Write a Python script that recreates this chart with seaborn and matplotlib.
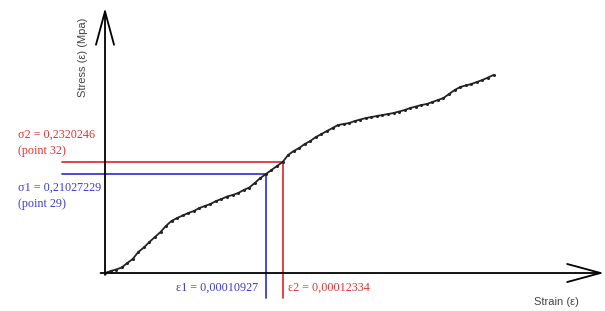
import seaborn as sns
import matplotlib.pyplot as plt

# strain in units of 1e-6, one value per recorded point (0..70)
strain = [0, 3.8, 7.5, 11.3, 15.1, 18.8, 22.6, 26.4, 30.1, 33.9,
          37.7, 41.4, 45.2, 49.0, 52.8, 56.5, 60.3, 64.1, 67.8, 71.6,
          75.4, 79.1, 82.9, 86.7, 90.4, 94.2, 98.0, 101.7, 105.5, 109.3,
          113.0, 116.8, 120.6, 124.3, 128.1, 131.9, 135.6, 139.4, 143.2, 147.0,
          150.7, 154.5, 158.3, 162.0, 165.8, 169.6, 173.3, 177.1, 180.9, 184.6,
          188.4, 192.2, 195.9, 199.7, 203.5, 207.2, 211.0, 214.8, 218.5, 222.3,
          226.1, 229.8, 233.6, 237.4, 241.2, 244.9, 248.7, 252.5, 256.2, 260.0,
          263.8]
stress = [0.0, 0.0042, 0.0074, 0.0117, 0.0212, 0.0297, 0.0446, 0.0542, 0.0658, 0.0765,
          0.0871, 0.1001, 0.1107, 0.1169, 0.1222, 0.1274, 0.1317, 0.1381, 0.1423, 0.1466,
          0.1529, 0.1572, 0.1625, 0.1657, 0.1699, 0.1763, 0.1816, 0.1912, 0.2018, 0.2103,
          0.2188, 0.2273, 0.2358, 0.2506, 0.2591, 0.2655, 0.2740, 0.2804, 0.2889, 0.2952,
          0.3016, 0.3080, 0.3144, 0.3165, 0.3186, 0.3228, 0.3260, 0.3292, 0.3313, 0.3335,
          0.3356, 0.3377, 0.3398, 0.3430, 0.3462, 0.3505, 0.3536, 0.3568, 0.3590, 0.3632,
          0.3675, 0.3717, 0.3802, 0.3887, 0.3951, 0.3983, 0.4014, 0.4057, 0.4099, 0.4152,
          0.4206]

p1, p2 = 29, 32
sig_labels = ["σ1 = 0,21027229", "σ2 = 0,2320246"]
pt_labels = ["(point 29)", "(point 32)"]
eps_labels = ["ε1 = 0,00010927", "ε2 = 0,00012334"]
blue = "#3b3bd0"
red = "#e03434"

sns.set_style("white")
fig = plt.figure(figsize=(6.05, 3.11), dpi=100)
ax = fig.add_axes([0, 0, 1, 1])
ax.set_xlim(-71.3, 339.5)
ax.set_ylim(-0.0807, 0.5799)
ax.axis("off")

# axes arrows
arr = dict(arrowstyle="->,head_length=2.4,head_width=0.65", color="black", lw=1.3,
           mutation_scale=10, shrinkA=0, shrinkB=0)
ax.annotate("", xy=(0, 0.563), xytext=(0, -0.004), arrowprops=arr)
ax.annotate("", xy=(338.8, 0), xytext=(-3, 0), arrowprops=arr)

# guide lines
for p, c in [(p1, blue), (p2, red)]:
    ax.plot([-29.2, strain[p]], [stress[p], stress[p]], color=c, lw=1.3)
    ax.plot([strain[p], strain[p]], [stress[p], -0.053], color=c, lw=1.3)

sns.lineplot(x=strain, y=stress, color="#222222", lw=1.3, marker="o",
             markersize=2.2, markeredgewidth=0, ax=ax)

serif = "Liberation Serif"
fs = 8.7
ax.text(-59, 0.294, sig_labels[1], color=red, fontsize=fs, family=serif, va="center")
ax.text(-59, 0.260, pt_labels[1], color=red, fontsize=fs, family=serif, va="center")
ax.text(-59, 0.1805, sig_labels[0], color=blue, fontsize=fs, family=serif, va="center")
ax.text(-59, 0.1465, pt_labels[0], color=blue, fontsize=fs, family=serif, va="center")
ax.text(strain[p1] - 5, -0.032, eps_labels[0], color=blue, fontsize=fs, family=serif,
        va="center", ha="right")
ax.text(strain[p2] + 3.5, -0.032, eps_labels[1], color=red, fontsize=fs, family=serif,
        va="center", ha="left")

sans = "Liberation Sans"
ax.text(291.5, -0.062, "Strain (ε)", color="#444444", fontsize=8, family=sans, va="center")
ax.text(-14.9, 0.4585, "Stress (ε) (Mpa)", color="#444444", fontsize=8, family=sans,
        rotation=90, va="center", ha="center")

fig.savefig("out.png", dpi=100)
